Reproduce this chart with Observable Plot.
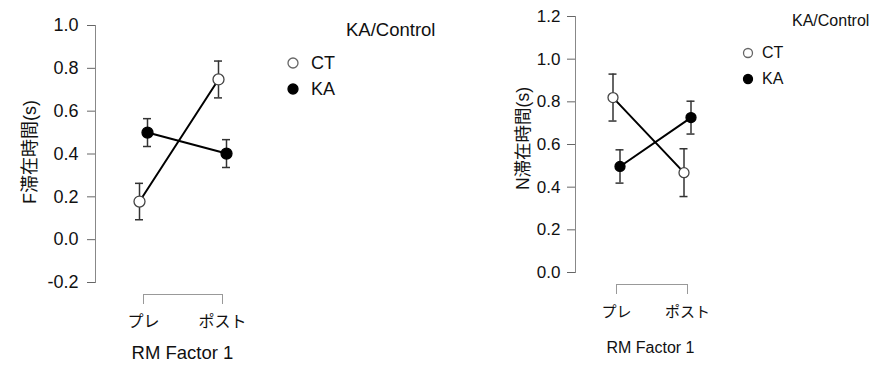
<!DOCTYPE html>
<html><head><meta charset="utf-8">
<script src="https://cdn.jsdelivr.net/npm/d3@7"></script>
<script src="https://cdn.jsdelivr.net/npm/@observablehq/plot@0.6"></script>
<style>
body{margin:0;background:#fff;font-family:"Liberation Sans","Noto Sans CJK JP",sans-serif;}
#wrap{position:relative;width:872px;height:367px;overflow:hidden;background:#fff;}
.panel{position:absolute;top:0;}
.leg{position:absolute;color:#111;white-space:nowrap;line-height:1;}
.leg svg{position:absolute;}
</style></head><body><div id="wrap"></div>
<script>
// ---- data ----
const categories = ["プレ", "ポスト"];
const groups = ["CT", "KA"];
const legendTitle = "KA/Control";
const xTitle = "RM Factor 1";
const fTitle = "F滞在時間(s)";
const nTitle = "N滞在時間(s)";
const fCT = [0.178, 0.748];
const fCTse = [0.085, 0.086];
const fKA = [0.500, 0.402];
const fKAse = [0.065, 0.065];
const nCT = [0.820, 0.468];
const nCTse = [0.110, 0.112];
const nKA = [0.497, 0.726];
const nKAse = [0.078, 0.077];
const fTicks = [-0.2, 0.0, 0.2, 0.4, 0.6, 0.8, 1.0];
const nTicks = [0.0, 0.2, 0.4, 0.6, 0.8, 1.0, 1.2];

function rows(means, ses) {
  return categories.map((c, i) => ({cat: c, mean: means[i], lo: means[i] - ses[i], hi: means[i] + ses[i]}));
}

const FONT = '"Liberation Sans","Noto Sans CJK JP",sans-serif';

function panel(o) {
  const sets = [
    {data: rows(o.ct, o.ctse), dx: -o.dodge, fill: "white", stroke: "#444"},
    {data: rows(o.ka, o.kase), dx: o.dodge, fill: "black", stroke: "black"}
  ];
  const marks = [
    Plot.frame({anchor: "left", insetBottom: 12, stroke: "#888"}),
    Plot.axisY({ticks: o.ticks, tickFormat: d => d.toFixed(1), tickSize: 8, tickPadding: o.tickPad, fontSize: o.tickFont, label: null, stroke: "#666", fill: "#111"}),
    Plot.axisX({tickSize: 10, tickPadding: o.xPad, fontSize: o.catFont, label: null, stroke: "#999", fill: "#111"}),
    Plot.ruleY([o.ticks[0]], {y: d => d, x1: () => categories[0], x2: () => categories[categories.length - 1], dy: 12, stroke: "#999"})
  ];
  for (const s of sets) {
    marks.push(
      Plot.ruleX(s.data, {x: "cat", y1: "lo", y2: "hi", dx: s.dx, stroke: "#333", strokeWidth: 1.5}),
      Plot.ruleY(s.data, {y: "hi", x1: "cat", x2: "cat", insetLeft: -4, insetRight: -4, dx: s.dx, stroke: "#333", strokeWidth: 1.5}),
      Plot.ruleY(s.data, {y: "lo", x1: "cat", x2: "cat", insetLeft: -4, insetRight: -4, dx: s.dx, stroke: "#333", strokeWidth: 1.5})
    );
  }
  for (const s of sets) {
    marks.push(Plot.line(s.data, {x: "cat", y: "mean", dx: s.dx, stroke: "black", strokeWidth: 2}));
  }
  for (const s of sets) {
    marks.push(Plot.dot(s.data, {x: "cat", y: "mean", dx: s.dx, r: o.r, fill: s.fill, stroke: s.stroke, strokeWidth: 1.3}));
  }
  marks.push(
    Plot.text([o.title], {text: d => d, frameAnchor: "left", textAnchor: "middle", lineAnchor: "middle", rotate: -90, dx: o.titleDx, dy: o.titleDy, fontSize: o.titleFont, fill: "#111"}),
    Plot.text([xTitle], {text: d => d, frameAnchor: "bottom", textAnchor: "middle", lineAnchor: "middle", dy: o.xTitleDy, fontSize: o.xTitleFont, fill: "#111"})
  );
  const svg = Plot.plot({
    width: o.width, height: 367,
    marginLeft: o.ml, marginTop: o.mt, marginBottom: o.mb, marginRight: o.mr,
    style: {fontFamily: FONT, background: "transparent", overflow: "visible"},
    x: {type: "point", domain: categories, range: o.xRange, padding: 0},
    y: {domain: [o.ticks[0], o.ticks[o.ticks.length - 1]], range: o.yRange},
    marks
  });
  svg.classList.add("panel");
  svg.style.left = o.left + "px";
  svg.style.position = "absolute";
  svg.style.top = "0px";
  return svg;
}

const wrap = document.getElementById("wrap");
wrap.appendChild(panel({
  left: 0, width: 460, ml: 95, mt: 25, mb: 73, mr: 191,
  xRange: [143, 222], yRange: [282, 25], ticks: fTicks,
  ct: fCT, ctse: fCTse, ka: fKA, kase: fKAse, dodge: 4, r: 5.5,
  tickPad: 9, tickFont: 18, xPad: 11, catFont: 16,
  title: fTitle, titleDx: -65, titleDy: -8, titleFont: 18,
  xTitleDy: 59, xTitleFont: 18.5
}));
wrap.appendChild(panel({
  left: 460, width: 412, ml: 115, mt: 16, mb: 83, mr: 147,
  xRange: [156, 227], yRange: [272, 16], ticks: nTicks,
  ct: nCT, ctse: nCTse, ka: nKA, kase: nKAse, dodge: 3.5, r: 5,
  tickPad: 7, tickFont: 17, xPad: 12, catFont: 15,
  title: nTitle, titleDx: -52, titleDy: -12, titleFont: 17.5,
  xTitleDy: 63, xTitleFont: 16
}));

// ---- legends ----
function legend(o) {
  const t = document.createElement("div");
  t.className = "leg";
  t.style.left = o.titleX + "px"; t.style.top = (o.titleY - o.titleFont / 2) + "px";
  t.style.fontSize = o.titleFont + "px";
  t.textContent = legendTitle;
  wrap.appendChild(t);
  groups.forEach((g, i) => {
    const y = o.y0 + i * o.gap;
    const svgNS = "http://www.w3.org/2000/svg";
    const s = document.createElementNS(svgNS, "svg");
    s.setAttribute("width", 16); s.setAttribute("height", 16);
    s.style.position = "absolute"; s.style.left = (o.cx - 8) + "px"; s.style.top = (y - 8) + "px";
    const c = document.createElementNS(svgNS, "circle");
    c.setAttribute("cx", 8); c.setAttribute("cy", 8); c.setAttribute("r", o.r);
    c.setAttribute("fill", i === 0 ? "white" : "black");
    c.setAttribute("stroke", i === 0 ? "#666" : "black");
    c.setAttribute("stroke-width", 1.3);
    s.appendChild(c);
    wrap.appendChild(s);
    const l = document.createElement("div");
    l.className = "leg";
    l.style.left = o.textX + "px"; l.style.top = (y - o.font / 2) + "px";
    l.style.fontSize = o.font + "px";
    l.textContent = g;
    wrap.appendChild(l);
  });
}
legend({titleX: 346, titleY: 30, titleFont: 18.5, cx: 293, y0: 63, gap: 26, r: 5, textX: 311, font: 18});
legend({titleX: 792, titleY: 21, titleFont: 16, cx: 748, y0: 53, gap: 26, r: 4.5, textX: 762, font: 16});
</script></body></html>
